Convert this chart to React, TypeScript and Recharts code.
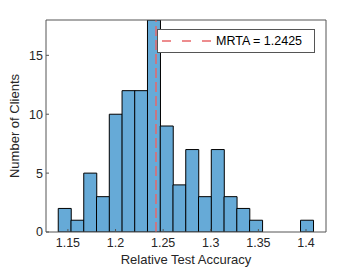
import React from 'react';
import { ComposedChart, Bar, Line, XAxis, YAxis, ReferenceLine, Legend, Label } from 'recharts';

// histogram bins (centres) and client counts
const binCenters = [
  1.1465, 1.1599, 1.1733, 1.1867, 1.2001, 1.2135, 1.2268, 1.2402, 1.2536, 1.267,
  1.2804, 1.2938, 1.3072, 1.3206, 1.334, 1.3474, 1.3607, 1.3741, 1.3875, 1.4009,
];
const clientCounts = [2, 1, 5, 3, 10, 12, 12, 18, 9, 4, 7, 3, 7, 3, 2, 1, 0, 0, 0, 1];
const xTicks = [1.15, 1.2, 1.25, 1.3, 1.35, 1.4];
const yTicks = [0, 5, 10, 15];
const mrta = 1.2425;

const data = binCenters.map((x, i) => ({ x, count: clientCounts[i] }));

const FONT = '"Liberation Sans", Arial, sans-serif';
const TEXT = '#262626';
const AXIS = '#555555';
const RED = '#E8676A';

function MrtaLegend() {
  return (
    <div
      style={{
        width: 158,
        height: 24,
        boxSizing: 'border-box',
        border: `1px solid ${AXIS}`,
        background: '#fff',
        display: 'flex',
        alignItems: 'center',
        fontFamily: FONT,
        fontSize: 12.5,
        color: '#000',
      }}
    >
      <svg width={58} height={10} style={{ flex: 'none' }}>
        <line x1={4} x2={55} y1={5} y2={5} stroke={RED} strokeWidth={1.3} strokeDasharray="9 11" />
      </svg>
      <span>MRTA = {mrta}</span>
    </div>
  );
}

export default function App() {
  const tickStyle = { fill: TEXT, fontSize: 12.5, fontFamily: FONT };
  return (
    <div style={{ position: 'absolute', left: 0, top: 0, background: '#fff' }}>
      <ComposedChart
        width={360}
        height={270}
        data={data}
        margin={{ top: 20, right: 34, bottom: 0, left: 0 }}
        barCategoryGap={0}
        barGap={0}
      >
        <XAxis
          dataKey="x"
          type="number"
          domain={[1.127, 1.421]}
          allowDataOverflow
          ticks={xTicks}
          height={38}
          stroke={AXIS}
          tick={tickStyle}
          tickSize={-3}
          tickMargin={9}
        >
          <Label
            value="Relative Test Accuracy"
            position="bottom"
            offset={-15}
            fill={TEXT}
            fontSize={13}
            fontFamily={FONT}
          />
        </XAxis>
        <XAxis
          xAxisId="top"
          dataKey="x"
          orientation="top"
          type="number"
          domain={[1.127, 1.421]}
          allowDataOverflow
          ticks={xTicks}
          height={1}
          stroke={AXIS}
          mirror
          tick={false}
          tickSize={3}
        />
        <YAxis
          type="number"
          domain={[0, 18]}
          allowDataOverflow
          ticks={yTicks}
          width={46}
          stroke={AXIS}
          tick={tickStyle}
          tickSize={-3}
          tickMargin={6}
        >
          <Label
            value="Number of Clients"
            angle={-90}
            position="insideLeft"
            offset={14}
            style={{ textAnchor: 'middle' }}
            fill={TEXT}
            fontSize={13}
            fontFamily={FONT}
          />
        </YAxis>
        <YAxis
          yAxisId="right"
          orientation="right"
          type="number"
          domain={[0, 18]}
          allowDataOverflow
          ticks={yTicks}
          width={1}
          stroke={AXIS}
          mirror
          tick={false}
          tickSize={3}
        />
        <Bar dataKey="count" fill="#66AAD7" stroke="#000" strokeWidth={1} isAnimationActive={false} />
        {/* invisible series so the mirrored top/right axes (box) get drawn */}
        <Line
          xAxisId="top"
          yAxisId="right"
          dataKey="count"
          stroke="none"
          dot={false}
          activeDot={false}
          legendType="none"
          isAnimationActive={false}
        />
        <ReferenceLine x={mrta} stroke={RED} strokeWidth={1.5} strokeDasharray="10 4" />
        <Legend
          layout="horizontal"
          verticalAlign="middle"
          align="center"
          content={() => <MrtaLegend />}
          wrapperStyle={{ top: 29, left: 157, width: 'auto', height: 'auto' }}
        />
      </ComposedChart>
    </div>
  );
}
